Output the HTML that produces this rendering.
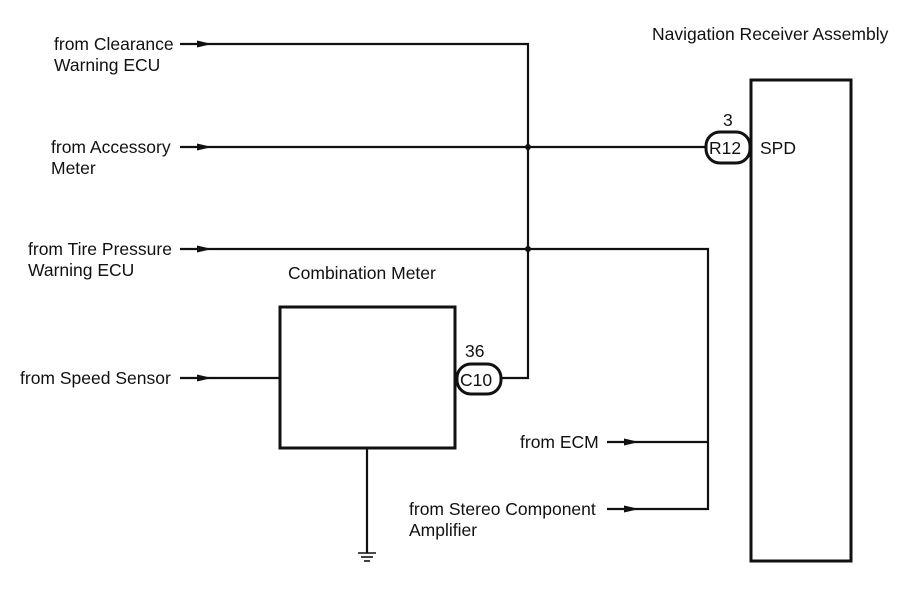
<!DOCTYPE html>
<html><head><meta charset="utf-8"><style>
html,body{margin:0;padding:0;background:#fff;}
svg{display:block;}
text{font-family:"Liberation Sans",Arial,sans-serif;font-size:17.5px;fill:#111;}
</style></head><body>
<svg width="907" height="610" viewBox="0 0 907 610" xmlns="http://www.w3.org/2000/svg">
<g stroke="#111" stroke-width="2.2" fill="none">
<polyline points="180,44 528,44 528,378 500,378"/>
<line x1="180" y1="147" x2="707" y2="147"/>
<polyline points="180,249 708,249 708,509 607,509"/>
<line x1="607" y1="442" x2="708" y2="442"/>
<line x1="180" y1="378" x2="280" y2="378"/>
<line x1="367" y1="448" x2="367" y2="553"/>
</g>
<g stroke="#111" stroke-width="3" fill="#fff">
<rect x="280" y="307" width="175" height="141"/>
<rect x="751" y="80" width="100" height="481"/>
<rect x="457" y="364" width="44" height="30" rx="14"/>
<rect x="706" y="132" width="44" height="31" rx="14"/>
</g>
<g stroke="#111" stroke-width="1.6">
<line x1="358" y1="553" x2="376" y2="553"/>
<line x1="361" y1="557" x2="373" y2="557"/>
<line x1="364" y1="561" x2="370" y2="561"/>
</g>
<g fill="#111">
<circle cx="528" cy="147" r="3"/>
<circle cx="528" cy="249" r="3"/>
<polygon points="197,40.5 212,44 197,47.5"/>
<polygon points="197,143.5 212,147 197,150.5"/>
<polygon points="197,245.5 212,249 197,252.5"/>
<polygon points="197,374.5 212,378 197,381.5"/>
<polygon points="624,438.5 639,442 624,445.5"/>
<polygon points="624,505.5 639,509 624,512.5"/>
</g>
<text x="54" y="50">from Clearance</text>
<text x="54" y="71">Warning ECU</text>
<text x="51" y="153">from Accessory</text>
<text x="51" y="174">Meter</text>
<text x="28" y="255">from Tire Pressure</text>
<text x="28" y="276">Warning ECU</text>
<text x="20" y="384">from Speed Sensor</text>
<text x="288" y="279">Combination Meter</text>
<text x="465" y="357">36</text>
<text x="460" y="386">C10</text>
<text x="709" y="154">R12</text>
<text x="723" y="126">3</text>
<text x="760" y="154">SPD</text>
<text x="652" y="40">Navigation Receiver Assembly</text>
<text x="520" y="448">from ECM</text>
<text x="409" y="515">from Stereo Component</text>
<text x="409" y="536">Amplifier</text>
</svg>
</body></html>
